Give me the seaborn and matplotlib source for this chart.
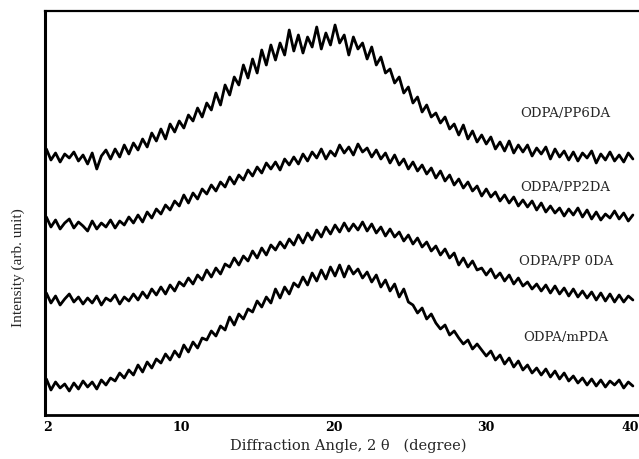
import numpy as np
import pandas as pd
import matplotlib
matplotlib.use("Agg")
import matplotlib.pyplot as plt
import seaborn as sns

# =========================
# Data (arb. intensity units)
# =========================
# scan grid: 1.2 .. 39.6 deg, step 0.3
two_theta = np.round(np.arange(1.2, 39.61, 0.3), 2)

pp6da = [266, 255, 262, 253, 261, 257, 263, 254, 260, 251,
         262, 246, 259, 265, 256, 266, 258, 270, 261, 272,
         265, 276, 268, 282, 274, 286, 276, 291, 283, 294,
         287, 300, 294, 307, 298, 312, 305, 322, 310, 330,
         320, 338, 330, 350, 337, 356, 342, 365, 350, 370,
         355, 372, 360, 385, 364, 380, 362, 378, 368, 388,
         366, 382, 370, 390, 372, 380, 360, 378, 366, 372,
         356, 368, 350, 358, 342, 346, 332, 338, 322, 328,
         312, 318, 303, 310, 298, 302, 292, 298, 286, 291,
         280, 290, 276, 284, 273, 280, 271, 278, 266, 273,
         264, 274, 262, 270, 263, 270, 259, 267, 261, 268,
         256, 266, 258, 264, 255, 263, 254, 262, 257, 264,
         252, 261, 255, 263, 254, 260, 253, 262, 256]

pp2da = [198, 188, 195, 186, 192, 196, 187, 193, 189, 184,
         194, 186, 192, 188, 195, 187, 194, 190, 198, 192,
         200, 193, 203, 197, 206, 201, 210, 205, 214, 209,
         220, 212, 222, 216, 226, 221, 230, 224, 233, 228,
         238, 231, 240, 235, 245, 239, 248, 242, 252, 246,
         253, 245, 256, 250, 258, 251, 261, 254, 263, 257,
         266, 256, 264, 259, 270, 262, 268, 260, 271, 263,
         267, 258, 265, 256, 262, 252, 260, 250, 256, 246,
         253, 244, 250, 241, 247, 237, 244, 234, 240, 230,
         236, 227, 233, 224, 229, 219, 226, 218, 223, 214,
         220, 212, 218, 209, 215, 208, 214, 205, 212, 203,
         209, 202, 207, 199, 206, 200, 207, 198, 205, 196,
         203, 195, 201, 197, 204, 196, 202, 194, 200]

pp0da = [122, 112, 119, 110, 116, 121, 113, 118, 111, 117,
         112, 119, 110, 117, 114, 120, 111, 118, 114, 121,
         115, 123, 117, 126, 120, 128, 121, 130, 124, 133,
         129, 137, 131, 140, 135, 145, 138, 147, 141, 151,
         148, 157, 150, 159, 154, 164, 157, 167, 160, 170,
         165, 173, 167, 176, 170, 180, 172, 182, 175, 185,
         178, 188, 181, 190, 183, 192, 184, 191, 185, 193,
         184, 191, 182, 188, 179, 186, 178, 183, 174, 180,
         171, 177, 168, 173, 164, 169, 160, 166, 157, 162,
         150, 157, 148, 154, 145, 147, 140, 146, 137, 142,
         134, 140, 131, 137, 129, 133, 126, 131, 124, 130,
         122, 129, 121, 127, 119, 126, 118, 124, 117, 123,
         115, 122, 114, 121, 113, 120, 113, 119, 115]

mpda = [36, 25, 33, 27, 31, 24, 32, 26, 34, 28,
        33, 26, 35, 30, 37, 34, 42, 37, 45, 40,
        50, 43, 53, 47, 56, 52, 61, 55, 64, 58,
        70, 63, 73, 67, 77, 75, 84, 79, 89, 85,
        98, 90, 101, 96, 106, 103, 114, 108, 118, 112,
        126, 117, 128, 121, 132, 128, 138, 130, 142, 134,
        145, 136, 148, 139, 150, 138, 149, 141, 146, 137,
        143, 133, 140, 128, 135, 124, 131, 118, 126, 113,
        110, 102, 107, 96, 101, 92, 86, 90, 80, 84,
        77, 71, 75, 66, 71, 65, 59, 64, 55, 60,
        51, 57, 48, 54, 45, 50, 42, 47, 40, 46,
        38, 44, 36, 42, 34, 39, 32, 37, 30, 36,
        29, 35, 28, 34, 30, 35, 27, 33, 29]

samples = ["ODPA/PP6DA", "ODPA/PP2DA", "ODPA/PP 0DA", "ODPA/mPDA"]
label_y = [302, 227, 153, 77]
tick_pos = [1.3, 10, 20, 30, 40]
tick_labels = ["2", "10", "20", "30", "40"]

data = pd.DataFrame({"two_theta": np.tile(two_theta, 4),
                     "intensity": pp6da + pp2da + pp0da + mpda,
                     "sample": np.repeat(samples, len(two_theta))})

# =========================
# Plot
# =========================
sns.set_style("white")
plt.rcParams["font.family"] = ["DejaVu Serif"]

fig = plt.figure(figsize=(6.39, 4.59), dpi=100)
ax = fig.add_axes([45 / 639, 44 / 459, 594 / 639, 404 / 459])

for s in samples:
    sub = data[data["sample"] == s]
    sns.lineplot(ax=ax, data=sub, x="two_theta", y="intensity",
                 color="black", lw=2.0, estimator=None)

for s, y in zip(samples, label_y):
    ax.text(35.2, y, s, ha="center", va="center", fontsize=9.5)

ax.set_xlim(1.11, 40.0)
ax.set_ylim(0, 404)
ax.set_xticks(tick_pos)
ax.set_xticklabels(tick_labels, fontsize=9, fontweight="bold")
ax.get_xticklabels()[-1].set_horizontalalignment("right")
ax.set_yticks([])
ax.tick_params(axis="x", direction="inout", length=6, width=1.2, pad=1, colors="black")
ax.set_xlabel("")
ax.set_ylabel("")

for side in ["left", "bottom", "top"]:
    ax.spines[side].set_visible(True)
    ax.spines[side].set_color("black")
ax.spines["left"].set_linewidth(2.2)
ax.spines["bottom"].set_linewidth(2.0)
ax.spines["top"].set_linewidth(1.6)
ax.spines["right"].set_visible(False)

fig.text(348 / 639, 1 - 446 / 459, "Diffraction Angle, 2 \u03b8   (degree)",
         ha="center", va="center", fontsize=10.5)
fig.text(18 / 639, 1 - 268 / 459, "Intensity (arb. unit)", rotation=90,
         ha="center", va="center", fontsize=11, family="Liberation Serif")

plt.savefig("out.png", dpi=100)
